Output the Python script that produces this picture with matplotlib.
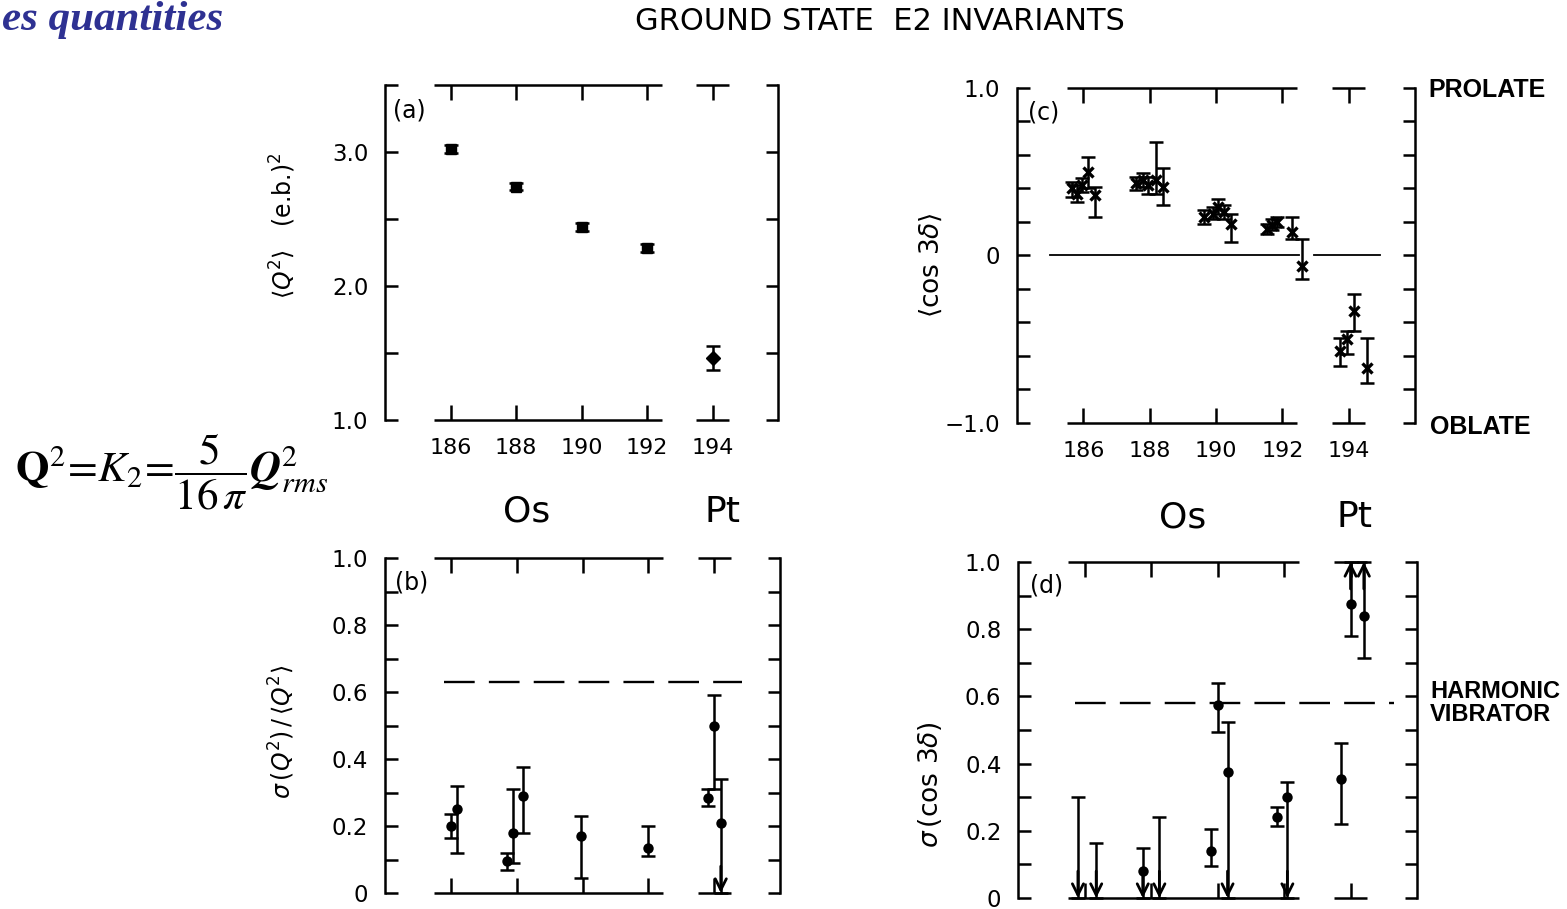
import numpy as np
import matplotlib
matplotlib.use('Agg')
import matplotlib.pyplot as plt

plt.rcParams['font.family'] = ['DejaVu Sans']
plt.rcParams['mathtext.fontset'] = 'dejavusans'

# isotope axis
isotopes = [186, 188, 190, 192, 194]
iso_labels = ['186', '188', '190', '192', '194']

# (a) <Q^2> in (e.b)^2
a_x = [186, 188, 190, 192, 194]
a_y = [3.02, 2.74, 2.44, 2.28, 1.46]
a_err = [0.03, 0.025, 0.03, 0.03, 0.09]

# (b) sigma(Q^2)/<Q^2>  (value, lower end, upper end, arrow to zero)
b_x = [186.0, 186.2, 187.7, 187.9, 188.2, 189.95, 192.0, 193.8, 194.0, 194.2]
b_y = [0.20, 0.25, 0.095, 0.18, 0.29, 0.17, 0.135, 0.285, 0.50, 0.21]
b_lo = [0.165, 0.12, 0.07, 0.09, 0.18, 0.045, 0.11, 0.26, 0.31, 0.0]
b_hi = [0.235, 0.32, 0.12, 0.31, 0.375, 0.23, 0.20, 0.31, 0.59, 0.34]
b_arrow = ['', '', '', '', '', '', '', '', '', 'down']
b_vib = 0.63

# (c) <cos 3delta>
c_x = [185.65, 185.8, 185.95, 186.15, 186.35,
       187.6, 187.8, 187.95, 188.2, 188.4,
       189.65, 189.9, 190.05, 190.25, 190.45,
       191.55, 191.7, 191.85, 192.3, 192.6,
       193.75, 193.95, 194.15, 194.55]
c_y = [0.40, 0.37, 0.42, 0.50, 0.36,
       0.43, 0.45, 0.42, 0.45, 0.41,
       0.23, 0.25, 0.29, 0.26, 0.19,
       0.16, 0.18, 0.20, 0.14, -0.06,
       -0.57, -0.50, -0.33, -0.67]
c_lo = [0.35, 0.32, 0.38, 0.40, 0.23,
        0.39, 0.41, 0.37, 0.37, 0.30,
        0.19, 0.22, 0.25, 0.22, 0.08,
        0.13, 0.15, 0.17, 0.10, -0.14,
        -0.66, -0.59, -0.45, -0.76]
c_hi = [0.44, 0.42, 0.46, 0.59, 0.41,
        0.47, 0.49, 0.47, 0.68, 0.52,
        0.27, 0.29, 0.34, 0.30, 0.25,
        0.19, 0.22, 0.23, 0.23, 0.10,
        -0.49, -0.45, -0.23, -0.49]
c_zero_segs = [(185.0, 192.5), (192.95, 194.95)]

# (d) sigma(cos 3delta)
d_x = [185.8, 186.35, 187.75, 188.25, 189.8, 190.0, 190.3, 191.8, 192.1, 193.7, 194.0, 194.4]
d_y = [np.nan, np.nan, 0.08, np.nan, 0.14, 0.575, 0.375, 0.24, 0.30, 0.355, 0.875, 0.84]
d_lo = [0.0, 0.0, 0.0, 0.0, 0.095, 0.495, 0.0, 0.215, 0.0, 0.22, 0.78, 0.715]
d_hi = [0.30, 0.165, 0.15, 0.24, 0.205, 0.64, 0.525, 0.27, 0.345, 0.46, 1.0, 1.0]
d_arrow = ['down', 'down', 'down', 'down', '', '', 'down', '', 'down', '', 'up', 'up']
d_vib = 0.58

frame_segs = [(185.5, 192.45), (193.5, 194.5)]
LW = 1.8


def style_axes(ax, ylim, major, labels, minor, xlabels=True):
    ax.set_xlim(184, 196)
    ax.set_ylim(*ylim)
    ax.spines['top'].set_visible(False)
    ax.spines['bottom'].set_visible(False)
    ax.spines['left'].set_linewidth(LW)
    ax.spines['right'].set_linewidth(LW)
    # broken top / bottom frame lines
    for a, b in frame_segs:
        for yy in ylim:
            ax.plot([a, b], [yy, yy], color='k', lw=LW, clip_on=False,
                    solid_capstyle='butt')
    ax.set_xticks(isotopes)
    ax.set_xticklabels(iso_labels if xlabels else [])
    ax.tick_params(axis='x', which='both', direction='in', top=True, bottom=True,
                   length=11, width=LW, labelsize=16, pad=13)
    ax.set_yticks(major)
    ax.set_yticklabels(labels)
    ax.set_yticks(minor, minor=True)
    ax.tick_params(axis='y', which='both', direction='in', left=True, right=True,
                   length=9, width=LW, labelsize=16.5, pad=12)


def draw_bars(ax, x, y, lo, hi, marker, ms, mew=0):
    x = np.array(x); y = np.array(y, dtype=float)
    lo = np.array(lo); hi = np.array(hi)
    mid = (lo + hi) / 2
    ax.errorbar(x, mid, yerr=(hi - lo) / 2, fmt='none', ecolor='k', elinewidth=1.8,
                capsize=4.8, capthick=1.8, clip_on=False)
    ax.plot(x, y, ls='none', marker=marker, ms=ms, color='k', mew=mew, clip_on=False)


def draw_arrows(ax, x, lo, hi, arrow, ylim):
    for xi, l, h, a in zip(x, lo, hi, arrow):
        if a == 'down':
            ax.annotate('', xy=(xi, ylim[0]), xytext=(xi, ylim[0] + 0.08),
                        arrowprops=dict(arrowstyle='->', lw=2.0, mutation_scale=20,
                                        color='k', shrinkA=0, shrinkB=0))
        elif a == 'up':
            ax.annotate('', xy=(xi, ylim[1]), xytext=(xi, ylim[1] - 0.08),
                        arrowprops=dict(arrowstyle='->', lw=2.0, mutation_scale=20,
                                        color='k', shrinkA=0, shrinkB=0))


fig = plt.figure(figsize=(15.67, 9.09), dpi=100)

ax_a = fig.add_axes([0.2457, 0.5380, 0.2508, 0.3685])
ax_b = fig.add_axes([0.2457, 0.0176, 0.2521, 0.3685])
ax_c = fig.add_axes([0.6490, 0.5347, 0.2540, 0.3685])
ax_d = fig.add_axes([0.6497, 0.0121, 0.2546, 0.3696])

# (a)
style_axes(ax_a, (1.0, 3.5), [1.0, 2.0, 3.0], ['1.0', '2.0', '3.0'], [1.5, 2.5, 3.5])
ax_a.errorbar(a_x[:4], a_y[:4], yerr=a_err[:4], fmt='s', ms=7, color='k',
              elinewidth=1.8, capsize=4.8, capthick=1.8)
ax_a.errorbar(a_x[4:], a_y[4:], yerr=a_err[4:], fmt='D', ms=7, color='k',
              elinewidth=1.8, capsize=4.8, capthick=1.8)
ax_a.text(0.02, 0.925, '(a)', transform=ax_a.transAxes, fontsize=17, va='center')

# (b)
yl_b = (0.0, 1.0)
style_axes(ax_b, yl_b, [0, 0.2, 0.4, 0.6, 0.8, 1.0], ['0', '0.2', '0.4', '0.6', '0.8', '1.0'],
           [0.1, 0.3, 0.5, 0.7, 0.9], xlabels=False)
ax_b.plot([185.8, 194.85], [b_vib, b_vib], color='k', lw=1.7, ls=(0, (13, 6)))
draw_bars(ax_b, b_x, b_y, b_lo, b_hi, 'o', 7.5)
draw_arrows(ax_b, b_x, b_lo, b_hi, b_arrow, yl_b)
ax_b.text(0.025, 0.928, '(b)', transform=ax_b.transAxes, fontsize=17, va='center')

# (c)
yl_c = (-1.0, 1.0)
style_axes(ax_c, yl_c, [-1.0, 0, 1.0], ['\u22121.0', '0', '1.0'],
           [-0.8, -0.6, -0.4, -0.2, 0.2, 0.4, 0.6, 0.8])
for a, b in c_zero_segs:
    ax_c.plot([a, b], [0, 0], color='k', lw=1.3)
draw_bars(ax_c, c_x, c_y, c_lo, c_hi, 'x', 6.5, mew=2.4)
ax_c.text(0.028, 0.928, '(c)', transform=ax_c.transAxes, fontsize=17, va='center')

# (d)
yl_d = (0.0, 1.0)
style_axes(ax_d, yl_d, [0, 0.2, 0.4, 0.6, 0.8, 1.0], ['0', '0.2', '0.4', '0.6', '0.8', '1.0'],
           [0.1, 0.3, 0.5, 0.7, 0.9], xlabels=False)
ax_d.plot([185.7, 195.3], [d_vib, d_vib], color='k', lw=1.7, ls=(0, (13, 6)))
draw_bars(ax_d, d_x, d_y, d_lo, d_hi, 'o', 7.5)
draw_arrows(ax_d, d_x, d_lo, d_hi, d_arrow, yl_d)
ax_d.text(0.03, 0.93, '(d)', transform=ax_d.transAxes, fontsize=17, va='center')

# y labels
fig.text(283 / 1567, 1 - 226 / 909, r'$\langle Q^2\rangle$   (e.b.)$^2$', rotation=90,
         ha='center', va='center', fontsize=17)
fig.text(282 / 1567, 1 - 732 / 909, r'$\sigma\,(Q^2)\,/\,\langle Q^2\rangle$', rotation=90,
         ha='center', va='center', fontsize=17)
fig.text(932 / 1567, 1 - 265 / 909, r'$\langle$cos 3$\delta\rangle$', rotation=90,
         ha='center', va='center', fontsize=19)
fig.text(930 / 1567, 1 - 785 / 909, r'$\sigma\,$(cos 3$\delta$)', rotation=90,
         ha='center', va='center', fontsize=19)

# element names
for xp, yp, s in [(527, 512, 'Os'), (722, 512, 'Pt'), (1183, 517, 'Os'), (1355, 517, 'Pt')]:
    fig.text(xp / 1567, 1 - yp / 909, s, ha='center', va='center', fontsize=26)

# side annotations
side = dict(family='Liberation Sans', fontweight='bold', ha='left', va='center')
fig.text(1428 / 1567, 1 - 90 / 909, 'PROLATE', fontsize=18, **side)
fig.text(1430 / 1567, 1 - 427 / 909, 'OBLATE', fontsize=18, **side)
fig.text(1430 / 1567, 1 - 703 / 909, 'HARMONIC\nVIBRATOR', linespacing=0.95, fontsize=17,
         **side)

fig.text(880 / 1567, 1 - 22 / 909, 'GROUND STATE  E2 INVARIANTS', ha='center', va='center',
         fontsize=22)

# slide fragments
fig.text(2 / 1567, 1 - 1 / 909, 'es quantities', ha='left', va='top',
         family='Liberation Serif', fontweight='bold', style='italic', fontsize=31,
         color='#2E3192')
fig.text(15 / 1567, 1 - 472 / 909,
         r'$\mathbf{Q}^2\!=\!K_2\!=\!\dfrac{5}{16\,\pi}\mathbfit{Q}^2_{rms}$',
         ha='left', va='center', fontsize=31, math_fontfamily='stix')

fig.savefig('out.png', dpi=100)
